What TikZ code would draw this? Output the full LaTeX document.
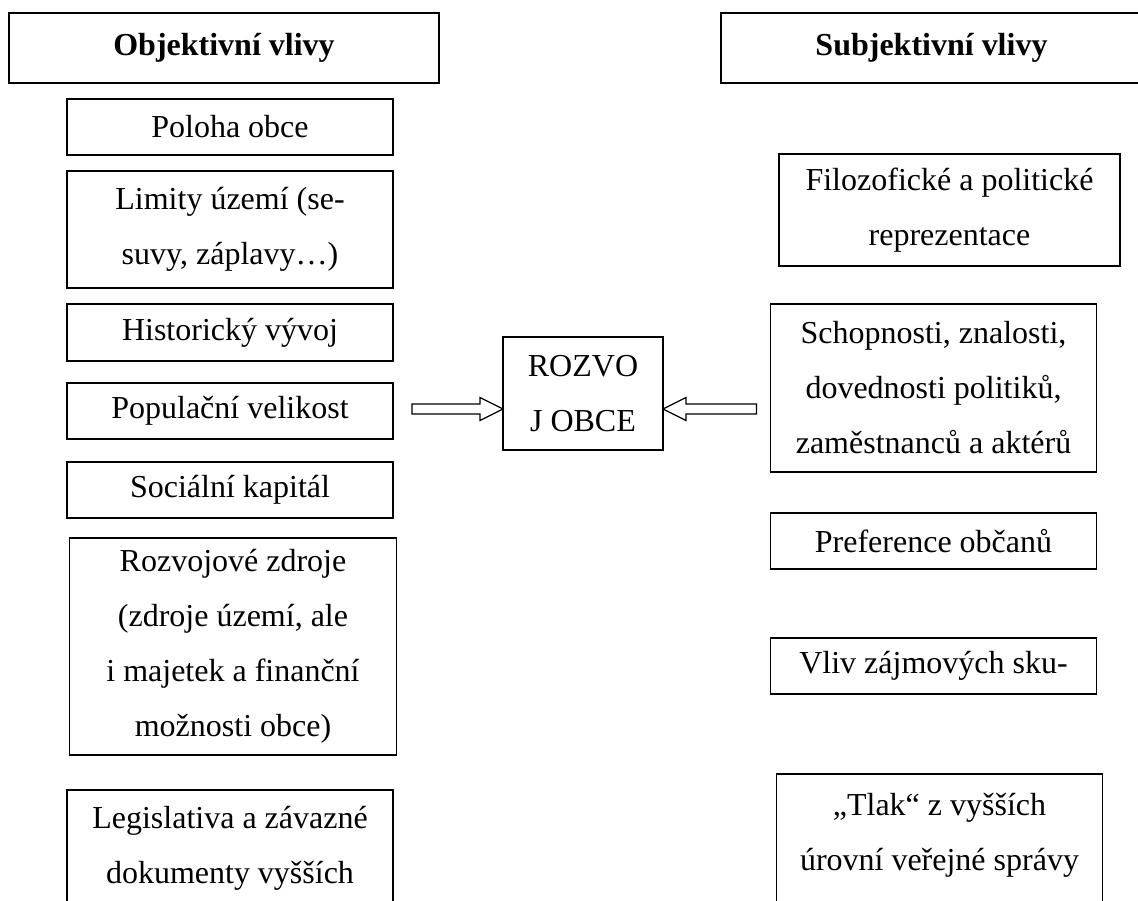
\documentclass[tikz,border=0pt]{standalone}
\usepackage{fontspec}
\setmainfont{Liberation Serif}
\usetikzlibrary{positioning, calc}
\tikzstyle{textblock} = [draw, line width=1.2pt, inner sep=0pt, outer sep=0pt, align=center, minimum width=326pt, font=\fontsize{32}{55}\selectfont]
\tikzstyle{headblock} = [textblock, minimum height=70pt, font=\fontsize{32}{55}\selectfont\bfseries]
\tikzstyle{arrowline} = [line width=1.2pt, fill=white]
\newcommand{\hollowarrow}[3]{
    \draw[arrowline] ($(#1)+(0,5)$) -- ($(#2)+({-23*#3},5)$) -- ($(#2)+({-23*#3},11.5)$) -- (#2)
        -- ($(#2)+({-23*#3},-11.5)$) -- ($(#2)+({-23*#3},-5)$) -- ($(#1)+(0,-5)$) -- cycle;
}

\begin{document}
\begin{tikzpicture}[x=1pt, y=-1pt]
        \useasboundingbox (0,0) rectangle (1138,900);
        \clip (0,0) rectangle (1138,900);

        % left column
        \node[headblock, minimum width=430pt] (objhead) at (224,48) {Objektivní vlivy};
        \node[textblock, minimum height=56pt, below=16pt of objhead, xshift=6pt] (poloha) {Poloha obce};
        \node[textblock, minimum height=117pt, below=16pt of poloha] (limity) {Limity území (se-\\suvy, záplavy…)};
        \node[textblock, minimum height=57pt, below=16pt of limity] (historie) {Historický vývoj};
        \node[textblock, minimum height=56pt, below=22pt of historie] (populace) {Populační velikost};
        \node[textblock, minimum height=56pt, below=23pt of populace] (kapital) {Sociální kapitál};
        \node[textblock, minimum height=217pt, minimum width=327pt, below=20pt of kapital, xshift=3pt] (zdroje) {Rozvojové zdroje\\(zdroje území, ale\\i majetek a finanční\\možnosti obce)};
        \node[textblock, inner ysep=16pt, below=35pt of zdroje, xshift=-3pt] (legislativa) {Legislativa a závazné\\dokumenty vyšších\\~};

        % right column
        \node[headblock, minimum width=421pt] (subhead) at (931.5,48) {Subjektivní vlivy};
        \node[textblock, minimum height=112pt, minimum width=341pt, below=71pt of subhead, xshift=18pt] (filozofie) {Filozofické a politické\\reprezentace};
        \node[textblock, minimum height=168pt, below=38pt of filozofie, xshift=-16pt] (schopnosti) {Schopnosti, znalosti,\\dovednosti politiků,\\zaměstnanců a aktérů};
        \node[textblock, minimum height=56pt, below=41pt of schopnosti] (preference) {Preference občanů};
        \node[textblock, minimum height=56pt, below=69pt of preference] (skupiny) {Vliv zájmových sku-};
        \node[textblock, inner ysep=19pt, below=80pt of skupiny, xshift=6pt] (tlak) {„Tlak“ z vyšších\\úrovní veřejné správy\\~};

        % centre
        \node[textblock, minimum width=160pt, minimum height=113pt] (rozvoj) at (583,393.5) {ROZVO\\J OBCE};

        \coordinate (ltail) at ([xshift=19pt, yshift=2pt]populace.east);
        \coordinate (lhead) at (rozvoj.west |- ltail);
        \coordinate (rx) at ([xshift=-14pt]schopnosti.west);
        \coordinate (rtail) at (rx |- ltail);
        \coordinate (rhead) at (rozvoj.east |- ltail);

        \hollowarrow{ltail}{lhead}{1}
        \hollowarrow{rtail}{rhead}{-1}
    \end{tikzpicture}
\end{document}
